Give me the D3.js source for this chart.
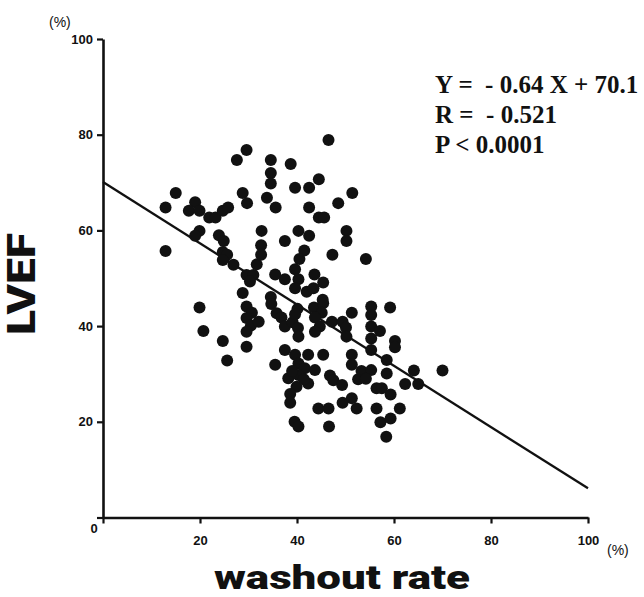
<!DOCTYPE html>
<html>
<head>
<meta charset="utf-8">
<script src="https://cdn.jsdelivr.net/npm/d3@7"></script>
<style>
  html, body { margin: 0; padding: 0; background: #fff; }
  svg { display: block; }
  .tick text { font-family: 'Liberation Sans', Arial, sans-serif; font-weight: bold; font-size: 13px; }
</style>
</head>
<body>
<svg id="chart" width="644" height="597"></svg>
<script>
// ---- data ----
const washout = [
  29.6, 27.6, 15.0, 12.9, 19.0, 17.7, 19.9, 21.9, 23.2, 24.7,
  25.8, 28.8, 29.7, 19.9, 19.0, 23.9, 24.9, 12.9, 24.7, 25.6,
  24.7, 26.9, 29.6, 31.0, 30.3, 28.8, 31.7, 46.5, 34.6, 38.7,
  34.6, 34.6, 44.5, 39.6, 42.5, 51.4, 33.8, 35.6, 42.5, 48.5,
  44.5, 45.6, 32.7, 40.3, 42.5, 50.2, 50.2, 37.5, 32.6, 32.6,
  41.5, 40.5, 47.3, 54.2, 39.6, 40.3, 43.6, 45.4, 35.5, 37.5,
  34.6, 39.6, 42.0, 43.4, 45.3, 19.9, 20.7, 24.7, 25.6, 29.6,
  30.7, 29.6, 30.5, 29.6, 29.6, 32.1, 34.7, 35.8, 36.8, 37.5,
  39.1, 40.1, 39.6, 40.2, 40.3, 43.5, 45.4, 45.1, 43.7, 44.7,
  43.7, 51.3, 47.2, 49.4, 50.1, 50.2, 37.5, 39.6, 42.3, 45.4,
  35.5, 40.3, 41.6, 43.7, 38.2, 40.3, 42.3, 39.9, 38.6, 38.6,
  46.8, 47.5, 49.3, 51.3, 51.3, 52.6, 44.4, 46.5, 49.4, 51.3,
  52.3, 39.5, 40.3, 46.6, 53.3, 39.0, 41.4, 55.3, 55.3, 55.3,
  55.3, 55.3, 57.1, 59.2, 60.2, 60.2, 58.5, 58.5, 55.3, 54.2,
  64.1, 70.0, 62.3, 65.0, 56.4, 57.5, 59.3, 56.4, 61.2, 57.2,
  59.3, 58.4
];
const lvef = [
  76.8, 74.7, 67.8, 64.8, 65.9, 64.1, 64.1, 62.7, 62.7, 64.1,
  64.8, 67.8, 65.7, 59.9, 58.9, 59.0, 57.8, 55.7, 55.5, 54.9,
  53.8, 52.8, 50.7, 50.7, 49.3, 46.9, 52.9, 78.9, 74.7, 73.9,
  72.0, 69.8, 70.7, 68.9, 68.9, 67.8, 66.8, 64.8, 64.8, 65.7,
  62.7, 62.7, 59.9, 59.9, 58.9, 59.9, 57.8, 57.8, 56.9, 54.9,
  55.8, 54.0, 54.9, 54.0, 51.9, 49.8, 50.8, 49.1, 50.8, 49.8,
  46.1, 47.9, 47.2, 47.9, 45.5, 43.9, 39.0, 36.9, 32.8, 44.1,
  42.8, 41.7, 40.1, 38.8, 35.7, 40.9, 44.6, 42.7, 41.8, 39.9,
  40.8, 43.6, 42.5, 39.6, 37.8, 43.9, 44.8, 42.8, 41.8, 39.9,
  38.8, 42.8, 40.9, 40.9, 39.7, 37.8, 35.0, 34.0, 34.0, 34.0,
  31.9, 32.2, 31.2, 30.8, 29.1, 29.8, 28.0, 27.3, 25.8, 24.0,
  29.7, 28.7, 27.7, 34.0, 31.9, 28.9, 22.8, 22.8, 24.0, 24.9,
  22.8, 20.0, 19.0, 19.0, 30.6, 30.6, 28.9, 44.1, 42.3, 39.9,
  37.4, 35.0, 39.0, 43.9, 36.9, 35.6, 32.9, 30.1, 30.8, 29.0,
  30.7, 30.7, 27.9, 27.9, 27.0, 27.0, 25.7, 22.8, 22.8, 19.9,
  20.7, 16.9
];
const xTicks = [0, 20, 40, 60, 80, 100];
const yTicks = [0, 20, 40, 60, 80, 100];
const slope = -0.64;
const intercept = 70.1;
const statLines = ["Y =  - 0.64 X + 70.1", "R =  - 0.521", "P < 0.0001"];
const xLabel = "washout rate";
const yLabel = "LVEF";
const unitLabel = "(%)";

// ---- drawing ----
const svg = d3.select("#chart");
const x = d3.scaleLinear().domain([0, 100]).range([103, 588]);
const y = d3.scaleLinear().domain([0, 100]).range([517.5, 39]);
const ink = "#111";

const points = washout.map((w, i) => ({ w, e: lvef[i] }));

// regression line
svg.append("line")
  .attr("x1", x(0)).attr("y1", y(intercept))
  .attr("x2", x(100)).attr("y2", y(intercept + slope * 100))
  .attr("stroke", ink).attr("stroke-width", 2.3);

// points
svg.append("g").selectAll("circle").data(points).join("circle")
  .attr("cx", d => x(d.w)).attr("cy", d => y(d.e)).attr("r", 6)
  .attr("fill", ink);

// axes
const fmt = d => d === 0 ? "" : String(d);
const gx = svg.append("g").attr("transform", `translate(0,${y(0)})`)
  .call(d3.axisBottom(x).tickValues(xTicks).tickFormat(fmt).tickSize(6).tickSizeOuter(0).tickPadding(12));
const gy = svg.append("g").attr("transform", `translate(${x(0)},0)`)
  .call(d3.axisLeft(y).tickValues(yTicks).tickFormat(fmt).tickSize(6).tickSizeOuter(0).tickPadding(4));
[gx, gy].forEach(g => {
  g.attr("font-family", "'Liberation Sans', Arial, sans-serif")
   .attr("font-size", 13).attr("font-weight", "bold");
  g.select(".domain").attr("stroke", ink).attr("stroke-width", 2.6);
  g.selectAll(".tick line").attr("stroke", ink).attr("stroke-width", 2.2);
  g.selectAll(".tick text").attr("fill", ink);
});

// shared "0" at the origin
svg.append("text").attr("x", 94).attr("y", 533)
  .attr("text-anchor", "middle").attr("fill", ink)
  .style("font-family", "'Liberation Sans', Arial, sans-serif")
  .style("font-weight", "bold").style("font-size", "13px")
  .text("0");

// unit labels
svg.append("text").attr("x", 49).attr("y", 27)
  .attr("fill", ink)
  .style("font-family", "'Liberation Sans', Arial, sans-serif")
  .style("font-size", "14px")
  .text(unitLabel);
svg.append("text").attr("x", 607).attr("y", 555)
  .attr("fill", ink)
  .style("font-family", "'Liberation Sans', Arial, sans-serif")
  .style("font-size", "14px")
  .text(unitLabel);

// axis titles
svg.append("text")
  .attr("transform", "translate(35,284) rotate(-90)")
  .attr("text-anchor", "middle").attr("fill", ink)
  .attr("textLength", 102).attr("lengthAdjust", "spacingAndGlyphs")
  .style("font-family", "Roboto, 'DejaVu Sans', sans-serif")
  .style("font-weight", "900").style("font-size", "38px")
  .text(yLabel);
svg.append("text")
  .attr("x", 342).attr("y", 589)
  .attr("text-anchor", "middle").attr("fill", ink)
  .attr("textLength", 256).attr("lengthAdjust", "spacingAndGlyphs")
  .style("font-family", "Roboto, 'DejaVu Sans', sans-serif")
  .style("font-weight", "900").style("font-size", "34px")
  .text(xLabel);

// statistics
svg.append("g").selectAll("text").data(statLines).join("text")
  .attr("x", 435).attr("y", (d, i) => 93 + i * 29.8)
  .attr("fill", ink)
  .style("font-family", "'Liberation Serif', 'Times New Roman', serif")
  .style("font-weight", "bold").style("font-size", "25px")
  .style("white-space", "pre")
  .text(d => d);
</script>
</body>
</html>
